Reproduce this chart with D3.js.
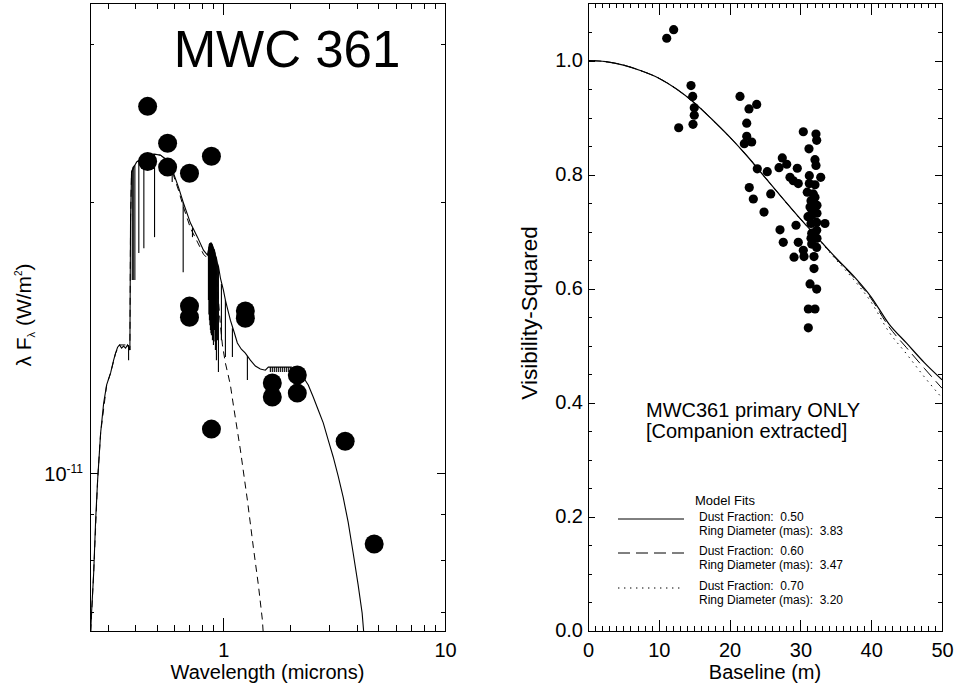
<!DOCTYPE html>
<html>
<head>
<meta charset="utf-8">
<script src="https://cdn.jsdelivr.net/npm/d3@7"></script>
<style>
  html, body { margin: 0; padding: 0; background: #fff; }
  svg { display: block; font-family: "Liberation Sans", Arial, Helvetica, sans-serif; }
  .ax line { stroke: #000; stroke-width: 1; shape-rendering: crispEdges; }
  .ax path.domain { display: none; }
  .pre { white-space: pre; }
</style>
</head>
<body>
<svg id="chart" width="958" height="689"></svg>
<script>
// ---------------- LEFT PANEL DATA (SED) ----------------
const FLUX_UNIT = 1e-11; // W/m^2
// Model (star + dust) continuum
const sedWave = [0.2518,0.2544,0.2597,0.2651,0.2706,0.2792,0.2881,0.2972,0.3097,0.3196,0.3261,0.3330,0.3400,0.3471,0.3543,0.3618,0.3694,0.3784,0.3811,0.3850,0.3919,0.3985,0.4055,0.4152,0.4270,0.4375,0.4546,0.4889,0.5202,0.5596,0.5873,0.5953,0.6268,0.6583,0.7101,0.7638,0.8127,0.8470,0.8559,0.8648,0.8738,0.8830,0.8922,0.9016,0.9110,0.9204,0.9300,0.9397,0.9495,0.9694,1.000,1.021,1.042,1.075,1.121,1.156,1.205,1.256,1.323,1.394,1.468,1.546,1.595,2.024,2.110,2.223,2.293,2.415,2.543,2.679,2.822,2.972,3.130,3.296,3.471,3.656,3.851,4.055,4.227,4.294,4.340];
const sedFlux = [0.667,0.704,0.774,0.887,0.982,1.108,1.196,1.253,1.292,1.335,1.359,1.380,1.388,1.377,1.384,1.377,1.388,1.370,1.925,2.160,2.188,2.199,2.216,2.227,2.239,2.244,2.256,2.262,2.256,2.227,2.177,2.154,2.079,2.000,1.896,1.829,1.769,1.747,1.769,1.797,1.801,1.801,1.792,1.778,1.769,1.747,1.733,1.711,1.698,1.647,1.597,1.557,1.525,1.479,1.431,1.395,1.373,1.359,1.335,1.315,1.305,1.301,1.3115,1.3115,1.305,1.295,1.278,1.253,1.215,1.175,1.137,1.088,1.042,0.992,0.940,0.882,0.815,0.751,0.699,0.667,0.636];
// Absorption lines in the model spectrum
const lineWave   = [0.3733,0.3878,0.3919,0.3985,0.4152,0.4375,0.4889,0.5873,0.6583,0.7251,0.8559,0.8603,0.8648,0.8693,0.8738,0.8784,0.8830,0.8876,0.8922,0.8969,0.9016,0.9063,0.9110,0.9157,0.9204,0.9252,0.9300,0.9397,0.9495,0.9795,1.021,1.098,1.283,1.6288,1.6623,1.6971,1.7327,1.7690,1.8064,1.8443,1.8830,1.9224,1.9626,2.0035];
const lineTop    = [1.388,2.171,2.188,2.199,2.227,2.244,2.262,2.177,2.000,1.872,1.769,1.785,1.797,1.800,1.801,1.801,1.801,1.797,1.792,1.785,1.778,1.773,1.769,1.758,1.747,1.740,1.733,1.711,1.698,1.622,1.557,1.449,1.349,1.3115,1.3115,1.3115,1.3115,1.3115,1.3115,1.3115,1.3115,1.3115,1.3115,1.3115];
const lineBottom = [1.335,1.639,1.639,1.639,1.756,1.778,1.829,2.106,1.672,1.829,1.557,1.500,1.479,1.460,1.442,1.430,1.423,1.440,1.405,1.410,1.388,1.450,1.442,1.400,1.370,1.420,1.335,1.405,1.295,1.405,1.346,1.346,1.269,1.295,1.295,1.295,1.295,1.295,1.295,1.295,1.295,1.295,1.295,1.295];
// Star-only model (dashed)
const starWave = [0.2518,0.2597,0.2706,0.2792,0.2972,0.3097,0.3261,0.3400,0.3694,0.3784,0.3811,0.3850,0.4055,0.4546,0.4889,0.5202,0.5596,0.5953,0.6268,0.6603,0.7101,0.7638,0.8127,0.8470,0.8738,0.9016,0.9300,0.9495,0.9694,0.9897,1.021,1.053,1.075,1.109,1.193,1.283,1.365,1.438,1.499,1.530];
const starFlux = [0.667,0.774,0.982,1.108,1.253,1.292,1.359,1.388,1.388,1.370,1.925,2.160,2.216,2.256,2.262,2.256,2.222,2.143,2.063,1.975,1.872,1.806,1.751,1.733,1.769,1.742,1.660,1.557,1.460,1.388,1.325,1.282,1.253,1.190,1.061,0.933,0.827,0.751,0.687,0.636];
// Photometry
const photWave = [0.455,0.455,0.560,0.560,0.703,0.883,0.703,0.703,1.256,1.256,0.883,1.662,1.662,2.155,2.155,3.544,4.79];
const photFlux = [2.556,2.22,2.326,2.188,2.154,2.25,1.533,1.49,1.514,1.486,1.119,1.259,1.215,1.285,1.227,1.085,0.834];
// Axis ticks
const xMajorL = [1, 10];
const xMinorL = [0.3,0.4,0.5,0.6,0.7,0.8,0.9,2,3,4,5,6,7,8,9];
const yMajorL = [1e-11];
const yMinorL = [7e-12,8e-12,9e-12,2e-11,3e-11];

// ---------------- RIGHT PANEL DATA (VISIBILITY) ----------------
const visBase = [11.12,12.10,12.81,14.55,14.79,15.01,15.01,14.83,21.47,23.83,22.74,22.42,22.42,23.12,22.08,30.41,32.20,32.30,31.21,32.06,32.20,27.44,28.07,26.98,29.56,23.91,25.32,28.53,29.00,29.70,31.26,32.87,31.26,32.06,30.97,31.82,22.78,25.81,23.35,24.86,32.06,31.36,31.60,31.50,32.30,33.47,27.12,29.38,31.60,32.30,27.58,29.70,31.60,32.30,30.41,29.10,30.51,31.92,31.92,31.36,32.30,31.12,32.06,31.12,31.50,32.34,31.64,32.34,31.50,32.34,31.07];
const visV2   = [1.039,1.054,0.882,0.956,0.937,0.917,0.904,0.888,0.937,0.923,0.915,0.890,0.867,0.857,0.854,0.875,0.871,0.860,0.845,0.826,0.816,0.829,0.818,0.812,0.811,0.810,0.805,0.795,0.789,0.784,0.798,0.795,0.784,0.782,0.769,0.766,0.777,0.766,0.757,0.734,0.760,0.743,0.728,0.714,0.716,0.714,0.703,0.711,0.697,0.702,0.681,0.681,0.678,0.672,0.667,0.655,0.656,0.656,0.635,0.608,0.599,0.564,0.564,0.531,0.754,0.746,0.737,0.732,0.688,0.688,0.726];
// Model fits
const fitBase = [0,2.5,5,7.5,10,12.5,15,17.5,20,22.5,25,27.5,30,32.5,35,37.5,40,42.5,45,47.5,50];
const fitV050 = [1.000,0.998,0.992,0.982,0.969,0.950,0.926,0.897,0.866,0.832,0.795,0.758,0.722,0.688,0.654,0.622,0.585,0.538,0.504,0.470,0.440];
const fitV060 = [1.000,0.998,0.992,0.982,0.969,0.950,0.926,0.897,0.866,0.832,0.795,0.758,0.722,0.688,0.653,0.620,0.582,0.533,0.496,0.460,0.425];
const fitV070 = [1.000,0.998,0.992,0.982,0.969,0.950,0.926,0.897,0.866,0.832,0.795,0.758,0.722,0.687,0.651,0.616,0.576,0.524,0.485,0.445,0.408];
const fitDust = ["0.50","0.60","0.70"];
const fitRing = ["3.83","3.47","3.20"];
const fitDash = [null, "12,6", "1.4,4.6"];
const xMajorR = [0,10,20,30,40,50];
const xMinorR = d3.range(1,50).filter(v => v % 10 !== 0);
const yMajorR = [0,0.2,0.4,0.6,0.8,1.0];
const yMinorR = [0.05,0.1,0.15,0.25,0.3,0.35,0.45,0.5,0.55,0.65,0.7,0.75,0.85,0.9,0.95,1.05];

// ---------------- DRAW ----------------
const svg = d3.select("#chart");
svg.append("rect").attr("width",958).attr("height",689).attr("fill","#fff");

function frameAxes(g, x, y, box, opts) {
  const {x0,x1,y0,y1} = box;
  const strip = sel => { sel.select(".domain").remove(); return sel; };
  const bm = g.append("g").attr("class","ax").attr("transform",`translate(0,${y1})`)
    .call(d3.axisBottom(x).tickValues(opts.xMajor).tickSizeInner(-opts.xMajLen).tickSizeOuter(0).tickPadding(12).tickFormat(opts.xFmt));
  strip(bm);
  bm.selectAll("text").attr("font-size",20).attr("fill","#000");
  bm.attr("font-family",null).attr("font-size",null);
  g.append("g").attr("class","ax").attr("transform",`translate(0,${y1})`)
    .call(d3.axisBottom(x).tickValues(opts.xMinor).tickSizeInner(-opts.xMinLen).tickSizeOuter(0).tickFormat("")).call(strip);
  g.append("g").attr("class","ax").attr("transform",`translate(0,${y0})`)
    .call(d3.axisTop(x).tickValues(opts.xMajor).tickSizeInner(-opts.xMajLenTop).tickSizeOuter(0).tickFormat("")).call(strip);
  g.append("g").attr("class","ax").attr("transform",`translate(0,${y0})`)
    .call(d3.axisTop(x).tickValues(opts.xMinor).tickSizeInner(-opts.xMinLen).tickSizeOuter(0).tickFormat("")).call(strip);
  const lm = g.append("g").attr("class","ax").attr("transform",`translate(${x0},0)`)
    .call(d3.axisLeft(y).tickValues(opts.yMajor).tickSizeInner(-opts.yMajLen).tickSizeOuter(0).tickPadding(5).tickFormat(opts.yFmt));
  strip(lm);
  lm.selectAll("text").attr("font-size",20).attr("fill","#000");
  lm.attr("font-family",null).attr("font-size",null);
  g.append("g").attr("class","ax").attr("transform",`translate(${x0},0)`)
    .call(d3.axisLeft(y).tickValues(opts.yMinor).tickSizeInner(-opts.yMinLen).tickSizeOuter(0).tickFormat("")).call(strip);
  g.append("g").attr("class","ax").attr("transform",`translate(${x1},0)`)
    .call(d3.axisRight(y).tickValues(opts.yMajor).tickSizeInner(-opts.yMajLen).tickSizeOuter(0).tickFormat("")).call(strip);
  g.append("g").attr("class","ax").attr("transform",`translate(${x1},0)`)
    .call(d3.axisRight(y).tickValues(opts.yMinor).tickSizeInner(-opts.yMinLen).tickSizeOuter(0).tickFormat("")).call(strip);
  g.append("rect").attr("x",x0).attr("y",y0).attr("width",x1-x0).attr("height",y1-y0)
    .attr("fill","none").attr("stroke","#000").attr("stroke-width",1).attr("shape-rendering","crispEdges");
}

// ----- Left panel -----
const boxL = {x0:90, x1:445, y0:3, y1:631};
const xL = d3.scaleLog().domain([0.25,10]).range([boxL.x0, boxL.x1]);
const yL = d3.scaleLog().domain([6.675e-12, 3.33e-11]).range([boxL.y1, boxL.y0]);
const gL = svg.append("g");
gL.append("clipPath").attr("id","clipL").append("rect")
  .attr("x",boxL.x0).attr("y",boxL.y0).attr("width",boxL.x1-boxL.x0).attr("height",boxL.y1-boxL.y0);
const plotL = gL.append("g").attr("clip-path","url(#clipL)");

const lineL = d3.line().x(d => xL(d[0])).y(d => yL(d[1]*FLUX_UNIT));
plotL.append("path").datum(starWave.map((w,i)=>[w,starFlux[i]]))
  .attr("d", lineL).attr("fill","none").attr("stroke","#000").attr("stroke-width",1).attr("stroke-dasharray","7,5");
plotL.append("path").datum(sedWave.map((w,i)=>[w,sedFlux[i]]))
  .attr("d", lineL).attr("fill","none").attr("stroke","#000").attr("stroke-width",1.1);
plotL.append("g").selectAll("line").data(lineWave.map((w,i)=>({w, t:lineTop[i], b:lineBottom[i]})))
  .join("line")
  .attr("x1", d => xL(d.w)).attr("x2", d => xL(d.w))
  .attr("y1", d => yL(d.t*FLUX_UNIT)).attr("y2", d => yL(d.b*FLUX_UNIT))
  .attr("stroke","#000").attr("stroke-width",1.1);

gL.append("g").selectAll("circle").data(photWave.map((w,i)=>[w,photFlux[i]]))
  .join("circle").attr("cx", d => xL(d[0])).attr("cy", d => yL(d[1]*FLUX_UNIT)).attr("r",9.5).attr("fill","#000");

frameAxes(gL, xL, yL, boxL, {
  xMajor:xMajorL, xMinor:xMinorL, yMajor:yMajorL, yMinor:yMinorL,
  xMajLen:13, xMajLenTop:12, xMinLen:6, yMajLen:8, yMinLen:4,
  xFmt: d3.format("d"), yFmt: () => ""
});
const lbl11 = gL.append("text").attr("x", boxL.x0 - 7).attr("y", yL(1e-11) + 8)
  .attr("text-anchor","end").attr("font-size",20);
lbl11.append("tspan").text("10");
lbl11.append("tspan").attr("font-size",12).attr("dy",-8).text("-11");

gL.append("text").attr("x",(boxL.x0+boxL.x1)/2).attr("y",679).attr("text-anchor","middle")
  .attr("font-size",20).text("Wavelength (microns)");
const ylab = gL.append("text").attr("transform","translate(31,315) rotate(-90)")
  .attr("text-anchor","middle").attr("font-size",21);
ylab.append("tspan").text("λ F");
ylab.append("tspan").attr("font-size",11).attr("dy",4).text("λ");
ylab.append("tspan").attr("dy",-4).text(" (W/m");
ylab.append("tspan").attr("font-size",10).attr("dy",-9).text("2");
ylab.append("tspan").attr("dy",9).text(")");

gL.append("text").attr("x",287).attr("y",67).attr("text-anchor","middle").attr("font-size",51).text("MWC 361");

// ----- Right panel -----
const boxR = {x0:588, x1:942, y0:3, y1:631};
const xR = d3.scaleLinear().domain([0,50]).range([boxR.x0, boxR.x1]);
const yR = d3.scaleLinear().domain([0,1.1]).range([630.5, 3.5]);
const gR = svg.append("g");
gR.append("clipPath").attr("id","clipR").append("rect")
  .attr("x",boxR.x0).attr("y",boxR.y0).attr("width",boxR.x1-boxR.x0).attr("height",boxR.y1-boxR.y0);
const plotR = gR.append("g").attr("clip-path","url(#clipR)");

const lineR = d3.line().x(d => xR(d[0])).y(d => yR(d[1])).curve(d3.curveMonotoneX);
[fitV070, fitV060, fitV050].forEach((vals, k) => {
  const idx = 2 - k;
  plotR.append("path").datum(fitBase.map((b,i)=>[b, vals[i]]))
    .attr("d", lineR).attr("fill","none").attr("stroke","#000")
    .attr("stroke-width", idx === 0 ? 1.2 : 1)
    .attr("stroke-dasharray", fitDash[idx]);
});

gR.append("g").selectAll("circle").data(visBase.map((b,i)=>[b, visV2[i]]))
  .join("circle").attr("cx", d => xR(d[0])).attr("cy", d => yR(d[1])).attr("r",4.6).attr("fill","#000");

frameAxes(gR, xR, yR, boxR, {
  xMajor:xMajorR, xMinor:xMinorR, yMajor:yMajorR, yMinor:yMinorR,
  xMajLen:11, xMajLenTop:12, xMinLen:5, yMajLen:7, yMinLen:4,
  xFmt: d3.format("d"), yFmt: d3.format(".1f")
});

gR.append("text").attr("x",(boxR.x0+boxR.x1)/2).attr("y",679).attr("text-anchor","middle")
  .attr("font-size",20).text("Baseline (m)");
gR.append("text").attr("transform","translate(537,313) rotate(-90)").attr("text-anchor","middle")
  .attr("font-size",22.5).text("Visibility-Squared");

gR.append("text").attr("x",646).attr("y",417).attr("font-size",20).text("MWC361 primary ONLY");
gR.append("text").attr("x",646).attr("y",438).attr("font-size",20).text("[Companion extracted]");

// Legend
gR.append("text").attr("x",695).attr("y",505).attr("font-size",13).text("Model Fits");
const legY = [519, 553, 588];
fitDust.forEach((df, i) => {
  gR.append("line").attr("x1",618).attr("x2",684).attr("y1",legY[i]).attr("y2",legY[i])
    .attr("stroke","#000").attr("stroke-width",1).attr("stroke-dasharray", fitDash[i]);
  gR.append("text").attr("class","pre").attr("x",699).attr("y",legY[i]+2).attr("font-size",12)
    .text("Dust Fraction:  " + df);
  gR.append("text").attr("class","pre").attr("x",699).attr("y",legY[i]+15.5).attr("font-size",12)
    .text("Ring Diameter (mas):  " + fitRing[i]);
});
</script>
</body>
</html>
